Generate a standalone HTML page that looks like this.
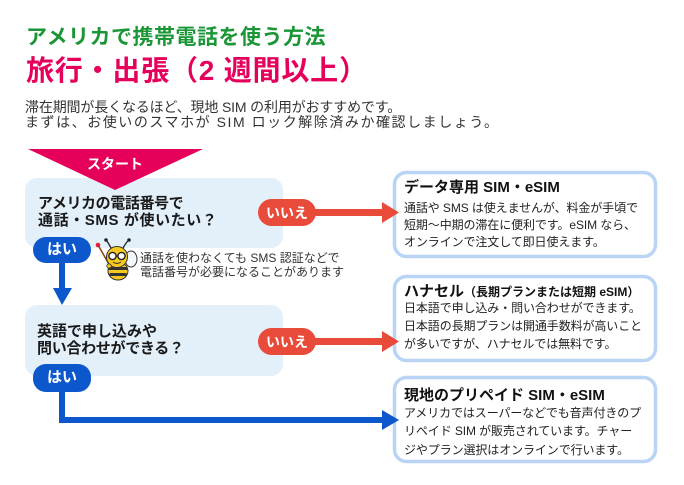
<!DOCTYPE html>
<html><head><meta charset="utf-8">
<style>
html,body{margin:0;padding:0;background:#fff;}
body{width:684px;height:485px;position:relative;overflow:hidden;font-family:"Liberation Sans","Noto Sans CJK JP",sans-serif;color:#222;}
.t{position:absolute;white-space:nowrap;}
.b{font-weight:700;}
svg{position:absolute;left:0;top:0;}
</style></head><body>
<svg width="684" height="485" viewBox="0 0 684 485">
  <!-- question boxes -->
  <rect x="25" y="178" width="258" height="70" rx="12" fill="#e3f0fa"/>
  <rect x="25" y="305" width="258" height="71" rx="12" fill="#e3f0fa"/>
  <!-- start triangle -->
  <polygon points="28,149 203,149 115,190" fill="#e5005a"/>
  <!-- result boxes -->
  <rect x="394.5" y="172.5" width="261" height="84" rx="12" fill="#fff" stroke="#b9d4f4" stroke-width="3.5"/>
  <rect x="394.5" y="276.5" width="261" height="84" rx="12" fill="#fff" stroke="#b9d4f4" stroke-width="3.5"/>
  <rect x="394.5" y="377.5" width="261" height="84" rx="12" fill="#fff" stroke="#b9d4f4" stroke-width="3.5"/>
  <!-- red arrows -->
  <rect x="300" y="209" width="84" height="7" fill="#e84b3a"/>
  <polygon points="382,202 382,223 399,212.5" fill="#e84b3a"/>
  <rect x="300" y="338" width="84" height="7" fill="#e84b3a"/>
  <polygon points="382,331 382,352 399,341.5" fill="#e84b3a"/>
  <!-- red pills -->
  <rect x="258" y="199" width="58" height="27" rx="13.5" fill="#e84b3a"/>
  <rect x="258" y="328" width="58" height="27" rx="13.5" fill="#e84b3a"/>
  <!-- blue arrows -->
  <rect x="59" y="255" width="6" height="34" fill="#0b57cb"/>
  <polygon points="53,288 72,288 62,305" fill="#0b57cb"/>
  <rect x="59" y="380" width="6" height="43" fill="#0b57cb"/>
  <rect x="59" y="417" width="325" height="6" fill="#0b57cb"/>
  <polygon points="382,410 382,430 399,420" fill="#0b57cb"/>
  <!-- blue pills -->
  <rect x="33" y="237" width="58" height="26" rx="13" fill="#0b57cb"/>
  <rect x="33" y="364" width="58" height="28" rx="13" fill="#0b57cb"/>
  <!-- bee -->
  <g>
    <line x1="98" y1="245" x2="110" y2="266" stroke="#8a4a1a" stroke-width="1.6"/>
    <circle cx="98" cy="245" r="2.3" fill="#e0203a"/>
    <path d="M112 250 Q108 242 106 240" stroke="#222" stroke-width="1.3" fill="none"/>
    <path d="M122 250 Q126 242 129 240" stroke="#222" stroke-width="1.3" fill="none"/>
    <circle cx="106" cy="240" r="1.8" fill="#222"/>
    <circle cx="129" cy="240" r="1.8" fill="#222"/>
    <ellipse cx="131" cy="259" rx="6" ry="8" fill="#f4f8fc" stroke="#333" stroke-width="1"/>
    <ellipse cx="118" cy="271" rx="10" ry="9" fill="#f7c81e" stroke="#333" stroke-width="1"/>
    <rect x="108.5" y="267" width="19" height="3" fill="#333"/>
    <rect x="109.5" y="273" width="17" height="3" fill="#333"/>
    <circle cx="117" cy="257" r="10.5" fill="#f7c81e" stroke="#333" stroke-width="1"/>
    <circle cx="112.5" cy="256" r="3.6" fill="#fff" stroke="#222" stroke-width="1.4"/>
    <circle cx="121.5" cy="256" r="3.6" fill="#fff" stroke="#222" stroke-width="1.4"/>
    <line x1="116" y1="256" x2="118" y2="256" stroke="#222" stroke-width="1.2"/>
    <path d="M113 262 Q117 265 121 262" stroke="#333" stroke-width="1" fill="none"/>
    <circle cx="109" cy="266" r="2.2" fill="#f7c81e" stroke="#333" stroke-width="0.8"/>
  </g>
</svg>

<div class="t b" style="left:26px;top:26px;font-size:21px;line-height:24px;color:#1a9637;letter-spacing:0.5px;">アメリカで携帯電話を使う方法</div>
<div class="t b" style="left:26px;top:55px;font-size:28px;line-height:31px;color:#e4005b;letter-spacing:0.8px;">旅行・出張（2 週間以上）</div>

<div class="t" style="left:25px;top:100px;font-size:14px;line-height:15px;color:#333;letter-spacing:-0.15px;">滞在期間が長くなるほど、現地 SIM の利用がおすすめです。</div>
<div class="t" style="left:25px;top:115px;font-size:14px;line-height:15px;color:#333;letter-spacing:1.55px;">まずは、お使いのスマホが SIM ロック解除済みか確認しましょう。</div>

<div class="t b" style="left:87px;top:155px;font-size:14px;line-height:18px;color:#fff;">スタート</div>

<div class="t b" style="left:38px;top:195px;font-size:15px;line-height:17px;color:#1a1a1a;letter-spacing:-0.4px;">アメリカの電話番号で</div>
<div class="t b" style="left:38px;top:211.5px;font-size:15px;line-height:17px;color:#1a1a1a;letter-spacing:0.6px;">通話・SMS が使いたい？</div>

<div class="t b" style="left:37px;top:322.5px;font-size:15px;line-height:17px;color:#1a1a1a;">英語で申し込みや</div>
<div class="t b" style="left:37px;top:339.5px;font-size:15px;line-height:17px;color:#1a1a1a;letter-spacing:-0.3px;">問い合わせができる？</div>

<div class="t b" style="left:258px;top:203.5px;width:58px;text-align:center;font-size:14px;line-height:18px;color:#fff;">いいえ</div>
<div class="t b" style="left:258px;top:332.5px;width:58px;text-align:center;font-size:14px;line-height:18px;color:#fff;">いいえ</div>
<div class="t b" style="left:33px;top:241px;width:58px;text-align:center;font-size:15px;line-height:18px;color:#fff;">はい</div>
<div class="t b" style="left:33px;top:369px;width:58px;text-align:center;font-size:15px;line-height:18px;color:#fff;">はい</div>

<div class="t" style="left:140px;top:252px;font-size:12px;line-height:13.5px;color:#333;">通話を使わなくても SMS 認証などで</div>
<div class="t" style="left:140px;top:265.5px;font-size:12px;line-height:13.5px;color:#333;">電話番号が必要になることがあります</div>

<div class="t b" style="left:404px;top:179px;font-size:15px;line-height:18px;color:#111;">データ専用 SIM・eSIM</div>
<div class="t" style="left:404px;top:199.5px;font-size:12px;line-height:17.2px;color:#222;letter-spacing:-0.1px;">通話や SMS は使えませんが、料金が手頃で<br>短期〜中期の滞在に便利です。eSIM なら、<br>オンラインで注文して即日使えます。</div>

<div class="t b" style="left:404px;top:283px;font-size:15px;line-height:18px;color:#111;">ハナセル<span style="font-size:12px;">（長期プランまたは短期 eSIM）</span></div>
<div class="t" style="left:404px;top:299px;font-size:12px;line-height:18px;color:#222;letter-spacing:-0.1px;">日本語で申し込み・問い合わせができます。<br>日本語の長期プランは開通手数料が高いこと<br>が多いですが、ハナセルでは無料です。</div>

<div class="t b" style="left:404px;top:387px;font-size:15px;line-height:18px;color:#111;">現地のプリペイド SIM・eSIM</div>
<div class="t" style="left:404px;top:404px;font-size:12px;line-height:18.3px;color:#222;letter-spacing:-0.1px;">アメリカではスーパーなどでも音声付きのプ<br>リペイド SIM が販売されています。チャー<br>ジやプラン選択はオンラインで行います。</div>
</body></html>
